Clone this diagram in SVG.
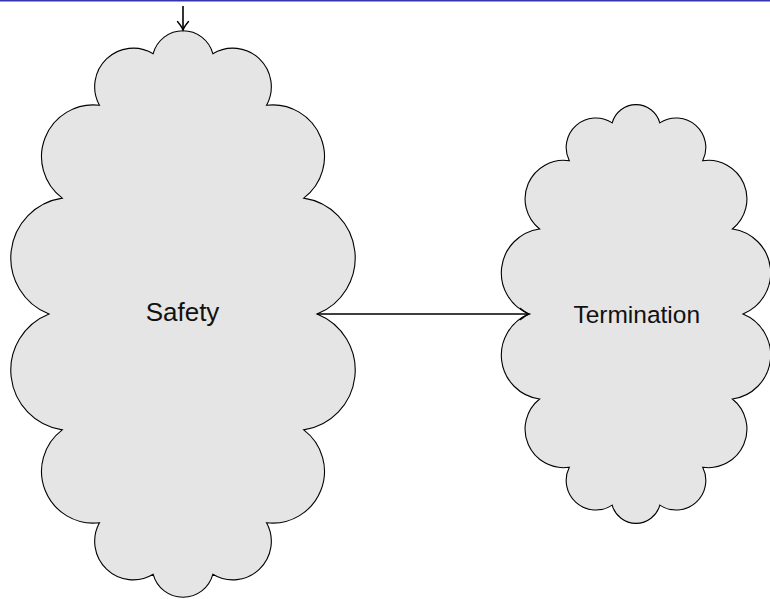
<svg xmlns="http://www.w3.org/2000/svg" width="770" height="599" viewBox="0 0 770 599">
  <style>
    .cloud { fill: #e5e5e5; stroke: #000; stroke-width: 1.1; }
    .label { font-family: "Liberation Sans", Arial, sans-serif; fill: #111; text-anchor: middle; }
    .edge { fill: none; stroke: #000; stroke-width: 1.6; }
  </style>
  <defs>
    <marker id="to" viewBox="-10 -6 12 12" refX="0" refY="0" markerWidth="12" markerHeight="12" markerUnits="userSpaceOnUse" orient="auto" overflow="visible">
      <path d="M -8.5 -5.5 Q -3 -1 0 0 Q -3 1 -8.5 5.5" fill="none" stroke="#000" stroke-width="1.4" stroke-linecap="round"/>
    </marker>
  </defs>
  <rect x="0" y="0" width="770" height="1.5" fill="#3535b0"/>
  <g id="safety">
    <path class="cloud" d="M 153.18 53.69 A 30.87 30.87 0 0 1 212.82 53.69 A 38.55 38.55 0 0 1 266.55 105.25 A 51.8 51.8 0 0 1 303.73 198.15 A 60.36 60.36 0 0 1 317 314 A 60.36 60.36 0 0 1 303.73 429.85 A 51.8 51.8 0 0 1 266.55 522.75 A 38.55 38.55 0 0 1 212.82 574.31 A 30.87 30.87 0 0 1 153.18 574.31 A 38.55 38.55 0 0 1 99.45 522.75 A 51.8 51.8 0 0 1 62.27 429.85 A 60.36 60.36 0 0 1 49 314 A 60.36 60.36 0 0 1 62.27 198.15 A 51.8 51.8 0 0 1 99.45 105.25 A 38.55 38.55 0 0 1 153.18 53.69 Z"/>
    <text class="label" x="182.5" y="321" font-size="26">Safety</text>
  </g>
  <g id="termination">
    <path class="cloud" d="M 612.19 122.91 A 24.65 24.65 0 0 1 659.81 122.91 A 29.61 29.61 0 0 1 702.71 160.76 A 38.5 38.5 0 0 1 732.4 228.96 A 44.36 44.36 0 0 1 743 314 A 44.36 44.36 0 0 1 732.4 399.04 A 38.5 38.5 0 0 1 702.71 467.24 A 29.61 29.61 0 0 1 659.81 505.09 A 24.65 24.65 0 0 1 612.19 505.09 A 29.61 29.61 0 0 1 569.29 467.24 A 38.5 38.5 0 0 1 539.6 399.04 A 44.36 44.36 0 0 1 529 314 A 44.36 44.36 0 0 1 539.6 228.96 A 38.5 38.5 0 0 1 569.29 160.76 A 29.61 29.61 0 0 1 612.19 122.91 Z"/>
    <text class="label" x="636.7" y="323" font-size="24.5">Termination</text>
  </g>
  <g id="connectors">
    <path class="edge" d="M 183 6 L 183 30" marker-end="url(#to)"/>
    <path class="edge" d="M 317 314 L 529 314" marker-end="url(#to)"/>
  </g>
</svg>
